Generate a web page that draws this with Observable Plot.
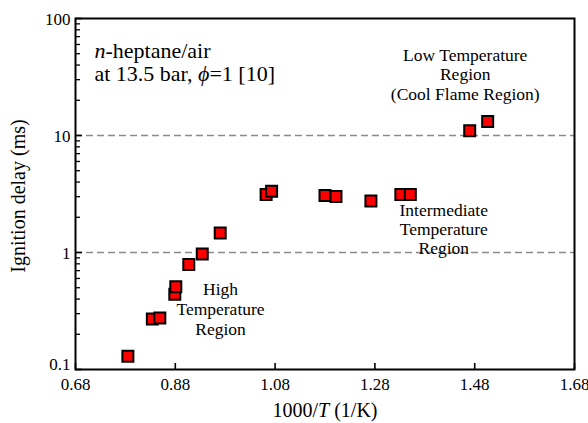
<!DOCTYPE html>
<html><head><meta charset="utf-8">
<script src="https://cdn.jsdelivr.net/npm/d3@7"></script>
<script src="https://cdn.jsdelivr.net/npm/@observablehq/plot@0.6"></script>
<style>body{margin:0;background:#fff} svg{display:block} svg text{font-family:"Liberation Serif","Times New Roman",serif}</style>
</head><body><div id="chart"></div>
<script>
// Data
const invT  = [0.785, 0.834, 0.849, 0.879, 0.881, 0.907, 0.934, 0.970, 1.062, 1.073, 1.180, 1.202, 1.272, 1.332, 1.351, 1.470, 1.506];
const delay = [0.13, 0.27, 0.275, 0.44, 0.51, 0.79, 0.97, 1.47, 3.13, 3.34, 3.07, 3.01, 2.75, 3.13, 3.13, 11.0, 13.2];

const xTicks = [0.68, 0.88, 1.08, 1.28, 1.48, 1.68];
const yTicks = [1, 10, 100];
const yTickBottom = [0.1];
const yMajorTicks = [0.1, 1, 10, 100];
const yMinorTicks = [0.2,0.3,0.4,0.5,0.6,0.7,0.8,0.9, 2,3,4,5,6,7,8,9, 20,30,40,50,60,70,80,90];
const dashLevels = [1, 10];

const xLabel = "1000/T (1/K)";
const yLabel = "Ignition delay (ms)";

const titleText = ["n-heptane/air", "at 13.5 bar, ϕ=1 [10]"];
const titleX = [0.718, 0.718];
const titleY = [62.7, 39.4];

const lowText = ["Low Temperature\nRegion\n(Cool Flame Region)"];
const lowX = [1.461];
const lowY = [56.6];
const highText = ["High\nTemperature\nRegion"];
const highX = [0.9706];
const highY = [0.57];
const midText = ["Intermediate\nTemperature\nRegion"];
const midX = [1.418];
const midY = [2.70];

const idx = a => a.map((_, i) => i);
const serif = "Liberation Serif";

const chart = Plot.plot({
  width: 588,
  height: 423,
  marginLeft: 75,
  marginRight: 14,
  marginTop: 18,
  marginBottom: 54,
  style: {fontFamily: serif},
  x: {domain: [0.68, 1.68]},
  y: {type: "log", domain: [0.1, 100]},
  marks: [
    Plot.ruleY(dashLevels, {stroke: "#8a8a8a", strokeWidth: 1.5, strokeDasharray: "7,4"}),
    // tick labels
    Plot.axisX(xTicks, {tickSize: 0, tickPadding: 8, tickFormat: d => d.toFixed(2), label: null, fontSize: 17}),
    Plot.axisY(yTicks, {tickSize: 0, tickPadding: 5, dy: 1.5, tickFormat: d => String(d), label: null, fontSize: 17}),
    Plot.axisY(yTickBottom, {tickSize: 0, tickPadding: 5, dy: -5, tickFormat: d => String(d), label: null, fontSize: 17}),
    Plot.dot(idx(invT), {x: invT, y: delay, symbol: "square", r: 6.2, fill: "#ff0000", stroke: "black", strokeWidth: 2}),
    Plot.text(titleText, {x: titleX, y: titleY, text: d => d, textAnchor: "start", lineAnchor: "top", fontSize: 22, fill: "black"}),
    Plot.text(lowText, {x: lowX, y: lowY, text: d => d, textAnchor: "middle", lineAnchor: "top", lineHeight: 1.1, fontSize: 17.5, fill: "black"}),
    Plot.text(highText, {x: highX, y: highY, text: d => d, textAnchor: "middle", lineAnchor: "top", lineHeight: 1.14, fontSize: 17.5, fill: "black"}),
    Plot.text(midText, {x: midX, y: midY, text: d => d, textAnchor: "middle", lineAnchor: "top", lineHeight: 1.1, fontSize: 17.5, fill: "black"}),
    Plot.text([xLabel], {frameAnchor: "bottom", textAnchor: "middle", lineAnchor: "middle", dy: 41, text: d => d, fontSize: 20, fill: "black"}),
    Plot.text([yLabel], {frameAnchor: "left", textAnchor: "middle", lineAnchor: "middle", rotate: -90, dx: -57, dy: 2, text: d => d, fontSize: 20, fill: "black"}),
    // inward tick marks, drawn last
    Plot.ruleX(xTicks, {insetTop: 345, stroke: "black", strokeWidth: 1.6}),
    Plot.ruleY(yMajorTicks, {insetRight: 492, stroke: "black", strokeWidth: 1.6}),
    Plot.ruleY(yMinorTicks, {insetRight: 494, stroke: "black", strokeWidth: 1.3}),
    Plot.frame({stroke: "black", strokeWidth: 2})
  ]
});

// italic pieces, built as SVG tspans
function rich(el, parts) {
  const s = d3.select(el);
  s.text(null);
  for (const [txt, it] of parts) {
    const t = s.append("tspan").text(txt);
    if (it) t.attr("font-style", "italic");
  }
}
d3.select(chart).selectAll("text").each(function() {
  const t = this.textContent;
  if (t === "n-heptane/air") rich(this, [["n", true], ["-heptane/air", false]]);
  else if (t === "at 13.5 bar, ϕ=1 [10]") rich(this, [["at 13.5 bar, ", false], ["ϕ", true], ["=1 [10]", false]]);
  else if (t === "1000/T (1/K)") rich(this, [["1000/", false], ["T", true], [" (1/K)", false]]);
});

document.getElementById("chart").appendChild(chart);
</script>
</body></html>
